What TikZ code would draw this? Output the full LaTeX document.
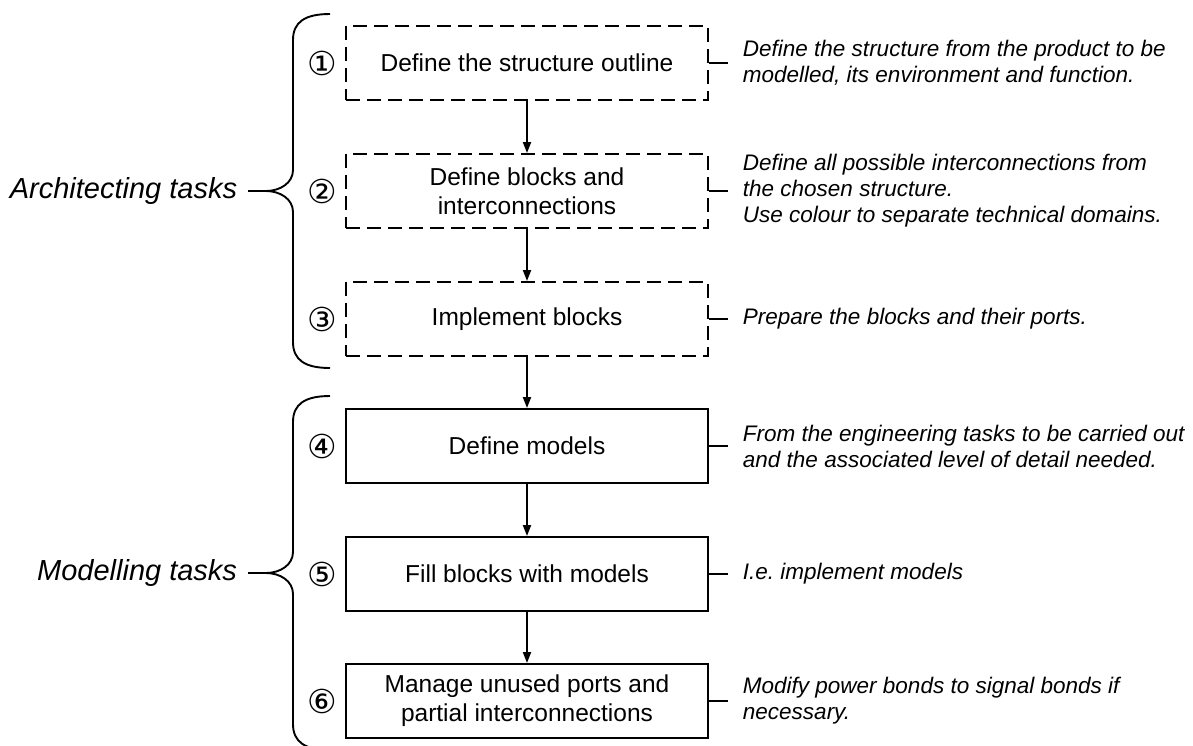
\documentclass[tikz,border=0pt]{standalone}
\usepackage{fontspec}
\setmainfont{Liberation Sans}
\newfontfamily\circfont{DejaVu Sans}
\usetikzlibrary{arrows.meta}

\begin{document}
\frenchspacing
\begin{tikzpicture}[x=1pt, y=-1pt, line width=1.9pt,
    every node/.style={font=\fontsize{24.5}{29}\selectfont},
    task/.style={draw, minimum width=362pt, minimum height=74pt, align=center, inner sep=0pt},
    sketchy/.style={task, dash pattern=on 14pt off 7pt},
    note/.style={anchor=west, align=left, inner xsep=14pt, font=\fontsize{22.5}{26}\selectfont\itshape},
    num/.style={font=\circfont\fontsize{33}{36}\selectfont, inner sep=0pt},
    group/.style={anchor=east, inner xsep=10pt, font=\fontsize{29}{33}\selectfont\itshape},
    flow/.style={-{Triangle[length=11pt,width=8pt]}, solid}]
    \useasboundingbox (0,0) rectangle (1193,745);
    \clip (0,0) rectangle (1193,745);

    % Architecting steps (dashed)
    \node[sketchy] (s1) at (527,63) {Define the structure outline};
    \node[sketchy] (s2) at (527,191) {Define blocks and\\interconnections};
    \node[sketchy] (s3) at (527,319) {Implement blocks};

    % Modelling steps (solid)
    \node[task] (s4) at (527,446) {Define models};
    \node[task] (s5) at (527,574) {Fill blocks with models};
    \node[task] (s6) at (527,701) {Manage unused ports and\\partial interconnections};

    % Step numbers
    \node[num] (n1) at (322,63) {①};
    \node[num] (n2) at (322,191) {②};
    \node[num] (n3) at (322,319) {③};
    \node[num] (n4) at (322,446) {④};
    \node[num] (n5) at (322,574) {⑤};
    \node[num] (n6) at (322,701) {⑥};

    % Flow between steps
    \draw[flow] (s1) -- (s2);
    \draw[flow] (s2) -- (s3);
    \draw[flow] (s3) -- (s4);
    \draw[flow] (s4) -- (s5);
    \draw[flow] (s5) -- (s6);

    % Descriptions
    \node[note] (d1) at (728,63) {Define the structure from the product to be\\modelled, its environment and function.};
    \node[note] (d2) at (728,191) {Define all possible interconnections from\\the chosen structure.\\Use colour to separate technical domains.};
    \node[note] (d3) at (728,319) {Prepare the blocks and their ports.};
    \node[note] (d4) at (728,446) {From the engineering tasks to be carried out\\and the associated level of detail needed.};
    \node[note] (d5) at (728,574) {I.e. implement models};
    \node[note] (d6) at (728,701) {Modify power bonds to signal bonds if\\necessary.};

    \draw (s1.east) -- (d1.west);
    \draw (s2.east) -- (d2.west);
    \draw (s3.east) -- (d3.west);
    \draw (s4.east) -- (d4.west);
    \draw (s5.east) -- (d5.west);
    \draw (s6.east) -- (d6.west);

    % Braces
    \coordinate (tipA) at (266,191);
    \coordinate (tipM) at (266,573);
    \draw (330,14) .. controls (305,14) and (293,22) .. (293,40) -- (293,170)
        .. controls (293,183) and (280,191) .. (tipA)
        .. controls (280,191) and (293,199) .. (293,212) -- (293,342)
        .. controls (293,360) and (305,368) .. (330,368);
    \draw (330,396) .. controls (305,396) and (293,404) .. (293,422) -- (293,552)
        .. controls (293,565) and (280,573) .. (tipM)
        .. controls (280,573) and (293,581) .. (293,594) -- (293,724)
        .. controls (293,742) and (305,750) .. (330,750);

    % Group labels
    \node[group] (ga) at (248,191) {Architecting tasks};
    \node[group] (gm) at (248,573) {Modelling tasks};
    \draw (ga.east) -- (tipA);
    \draw (gm.east) -- (tipM);
\end{tikzpicture}
\end{document}
